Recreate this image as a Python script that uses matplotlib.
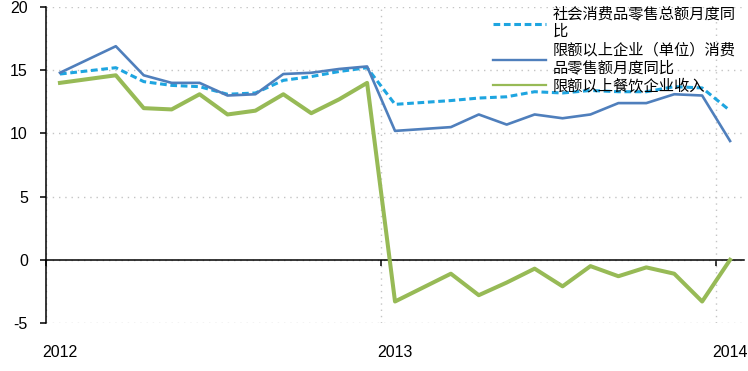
import matplotlib.pyplot as plt
import matplotlib.transforms as mtransforms

plt.rcParams['font.family'] = ['Liberation Sans', 'Noto Sans CJK SC', 'DejaVu Sans']
plt.rcParams['axes.unicode_minus'] = False

# month index from Jan 2012 (Feb is missing each year)
months = [0, 2, 3, 4, 5, 6, 7, 8, 9, 10, 11,
          12, 14, 15, 16, 17, 18, 19, 20, 21, 22, 23,
          24]

total_retail = [14.7, 15.2, 14.1, 13.8, 13.7, 13.1, 13.2, 14.2, 14.5, 14.9, 15.2,
                12.3, 12.6, 12.8, 12.9, 13.3, 13.2, 13.4, 13.3, 13.3, 13.7, 13.6,
                11.8]
above_quota = [14.8, 16.9, 14.6, 14.0, 14.0, 13.0, 13.1, 14.7, 14.8, 15.1, 15.3,
               10.2, 10.5, 11.5, 10.7, 11.5, 11.2, 11.5, 12.4, 12.4, 13.1, 13.0,
               9.4]
catering = [14.0, 14.6, 12.0, 11.9, 13.1, 11.5, 11.8, 13.1, 11.6, 12.7, 14.0,
            -3.3, -1.1, -2.8, -1.8, -0.7, -2.1, -0.5, -1.3, -0.6, -1.1, -3.3,
            0.0]

labels = ['社会消费品零售总额月度同\n比',
          '限额以上企业（单位）消费\n品零售额月度同比',
          '限额以上餐饮企业收入']
year_ticks = [0, 12, 24]
year_labels = ['2012', '2013', '2014']
y_ticks = [-5, 0, 5, 10, 15, 20]

x = [m + 0.5 for m in months]

fig = plt.figure(figsize=(7.48, 3.71), dpi=100)
ax = fig.add_axes([0.0615, 0.1294, 0.9332, 0.8516])

ax.plot(x, total_retail, color='#1EA5E0', lw=2.2, ls=(0, (2.2, 1.2)), label=labels[0])
ax.plot(x, above_quota, color='#4F7FBC', lw=1.9, label=labels[1])
ax.plot(x, catering, color='#97BA56', lw=2.9, label=labels[2])

ax.set_xlim(0, 25)
ax.set_ylim(-5, 20)
ax.set_yticks(y_ticks)
ax.set_xticks(year_ticks)
ax.set_xticklabels([])

ax.grid(True, color='#C4C4C4', ls=(0, (1, 3.5)), lw=1.0)
ax.set_axisbelow(True)

for s in ['top', 'right']:
    ax.spines[s].set_visible(False)
ax.spines['bottom'].set_position(('data', 0))
ax.spines['bottom'].set_linewidth(1.1)
ax.spines['left'].set_linewidth(1.1)
ax.spines['bottom'].set_zorder(1.5)

ax.tick_params(axis='y', direction='out', length=4, width=1.1, pad=9, labelsize=11.5)
ax.tick_params(axis='x', direction='out', length=4, width=1.1)

trans = mtransforms.blended_transform_factory(ax.transData, ax.transAxes)
for t, lab in zip(year_ticks, year_labels):
    ax.text(t + 0.5, -0.092, lab, transform=trans, ha='center', va='center', fontsize=11.5)

leg = ax.legend(loc='upper left', bbox_to_anchor=(0.640, 1.005), frameon=False,
                borderpad=0, borderaxespad=0, handlelength=3.5, handletextpad=0.4,
                labelspacing=0.1, prop={'family': ['Noto Sans CJK SC'], 'size': 11})
for t in leg.get_texts():
    t.set_linespacing(1.05)
leg.legend_handles[1].set_linewidth(1.7)
leg.legend_handles[2].set_linewidth(1.6)

fig.savefig('out.png', dpi=100)
